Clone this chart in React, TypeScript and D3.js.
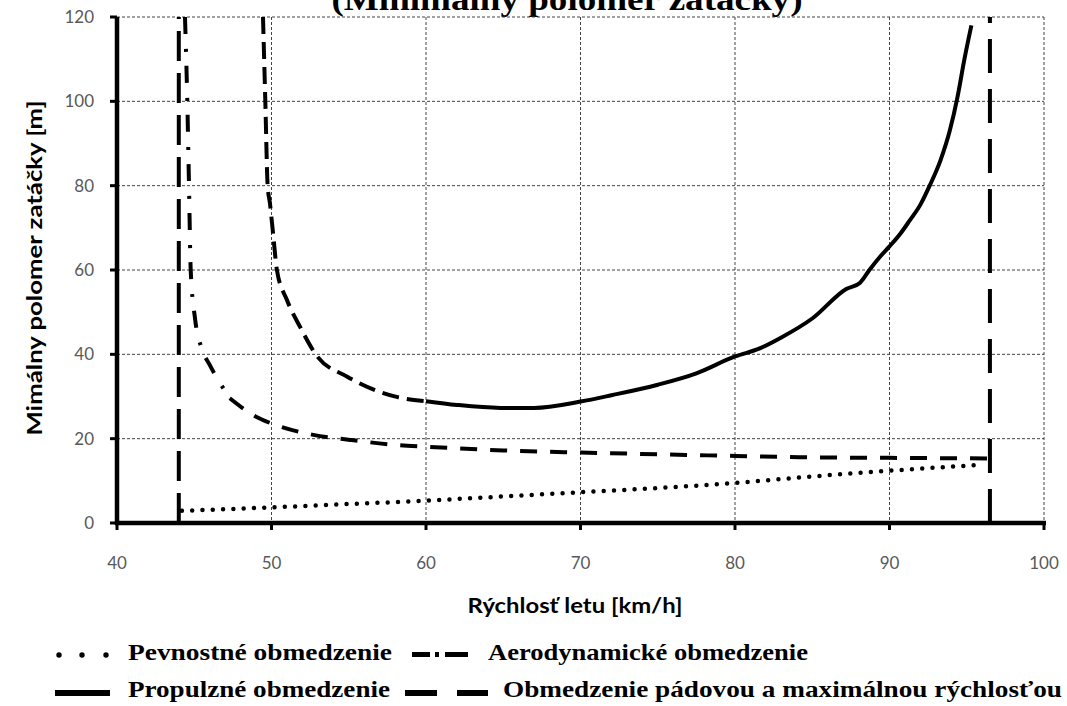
import React from "react";
import * as d3 from "d3";

// ---------- data ----------
const xTicks = [40, 50, 60, 70, 80, 90, 100];
const yTicks = [0, 20, 40, 60, 80, 100, 120];

// Propulzné obmedzenie (upper curve)
const propX = [49.45, 49.6, 49.75, 49.9, 50.1, 50.35, 51, 51.85, 52.9, 54.9, 58.1, 60, 62, 64.8, 67, 70, 72, 75, 77.5, 80, 81.6, 83, 85, 87.2, 88.1, 88.7, 89.4, 90, 90.7, 91.3, 92, 92.6, 93.3, 93.9, 94.4, 94.85, 95.3];
const propY = [120, 100, 80, 75.8, 68.7, 60, 52.9, 46.5, 39.8, 34.7, 29.9, 28.9, 28, 27.3, 27.3, 28.8, 30.3, 32.8, 35.5, 39.5, 41.4, 44, 48.5, 55.5, 57, 60, 63.2, 65.6, 68.6, 71.7, 75.5, 80, 86, 93, 101, 110, 118];

// Aerodynamické obmedzenie
const aeroX = [44.4, 44.55, 44.66, 44.77, 45.05, 45.48, 46.0, 47.3, 49, 50, 52.7, 55.1, 58.1, 60, 65, 70, 75, 80, 84.2, 90, 96.5];
const aeroY = [120, 100, 80, 60, 48.5, 41.4, 37.5, 29.6, 25.2, 23.6, 20.9, 19.7, 18.5, 18.1, 17.2, 16.7, 16.3, 15.9, 15.6, 15.45, 15.3];

// Pevnostné obmedzenie
const strX = [44.2, 50, 55, 60, 65, 70, 75, 80, 84.2, 90, 96.0];
const strY = [2.9, 3.7, 4.5, 5.3, 6.3, 7.3, 8.3, 9.5, 10.8, 12.4, 13.8];

// Obmedzenie pádovou a maximálnou rýchlosťou
const vMin = 44;
const vMax = 96.5;
const limY = [0, 120];

const title = "(Minimálny polomer zatáčky)";
const xTitle = "Rýchlosť letu [km/h]";
const yTitle = "Mimálny polomer zatáčky [m]";
const legendNames = [
  "Pevnostné obmedzenie",
  "Aerodynamické obmedzenie",
  "Propulzné obmedzenie",
  "Obmedzenie pádovou a maximálnou rýchlosťou",
];

// ---------- layout ----------
const W = 1067;
const H = 706;
const L = 117, R = 1044, T = 17, B = 523;

export default function App() {
  const x = d3.scaleLinear().domain([40, 100]).range([L, R]);
  const y = d3.scaleLinear().domain([0, 120]).range([B, T]);

  const line = d3
    .line<[number, number]>()
    .x((d) => x(d[0]))
    .y((d) => y(d[1]))
    .curve(d3.curveMonotoneX);

  const prop: [number, number][] = propX.map((v, i) => [v, propY[i]]);
  const propDash = prop.filter((d) => d[0] <= 60);
  const propSolid = prop.filter((d) => d[0] >= 60);

  const aero: [number, number][] = aeroX.map((v, i) => [v, aeroY[i]]);
  const aeroDD = aero.filter((d) => d[0] <= 47.3);
  const aeroDash = aero.filter((d) => d[0] >= 47.3);

  const str: [number, number][] = strX.map((v, i) => [v, strY[i]]);

  const gridColor = "#444";
  const tickColor = "#595959";
  const sans = "Lato, 'Open Sans', sans-serif";
  const serif = "'Liberation Serif', 'Times New Roman', serif";

  return (
    <svg
      width={W}
      height={H}
      style={{ position: "absolute", left: 0, top: 0, background: "#fff" }}
    >
      <rect x={0} y={0} width={W} height={H} fill="#fff" />
      {/* title (cut at top) */}
      <text
        x={567}
        y={10}
        textAnchor="middle"
        fontFamily={serif}
        fontWeight="bold"
        fontSize={31}
        textLength={471}
        lengthAdjust="spacingAndGlyphs"
      >
        {title}
      </text>

      {/* grid */}
      {xTicks.filter((t) => t > 40).map((t) => (
        <line key={"gx" + t} x1={x(t)} x2={x(t)} y1={T} y2={B} stroke={gridColor} strokeWidth={1} strokeDasharray="3 2" />
      ))}
      {yTicks.filter((t) => t > 0).map((t) => (
        <line key={"gy" + t} x1={L} x2={R} y1={y(t)} y2={y(t)} stroke={gridColor} strokeWidth={1} strokeDasharray="3 2" />
      ))}

      {/* series */}
      <path d={line(str) || ""} fill="none" stroke="#000" strokeWidth={4.5} strokeLinecap="round" strokeDasharray="0 10.3" />
      <path d={line(aeroDD) || ""} fill="none" stroke="#000" strokeWidth={4} strokeDasharray="17 15 3 14" />
      <path d={line(aeroDash) || ""} fill="none" stroke="#000" strokeWidth={4} strokeDasharray="17 13" />
      <path d={line(propDash) || ""} fill="none" stroke="#000" strokeWidth={4} strokeDasharray="17 8" />
      <path d={line(propSolid) || ""} fill="none" stroke="#000" strokeWidth={4} />
      <line x1={x(vMin)} x2={x(vMin)} y1={y(limY[0])} y2={y(limY[1])} stroke="#000" strokeWidth={4} strokeDasharray="30 12" />
      <line x1={x(vMax)} x2={x(vMax)} y1={y(limY[0])} y2={y(limY[1])} stroke="#000" strokeWidth={4} strokeDasharray="34 16" />

      {/* axes */}
      <line x1={L} x2={L} y1={T} y2={B + 2} stroke="#000" strokeWidth={4.5} />
      <line x1={L - 2} x2={R + 2} y1={B} y2={B} stroke="#000" strokeWidth={4.5} />
      {yTicks.map((t) => (
        <line key={"ty" + t} x1={L - 7} x2={L} y1={y(t)} y2={y(t)} stroke="#000" strokeWidth={3} />
      ))}
      {xTicks.map((t) => (
        <line key={"tx" + t} x1={x(t)} x2={x(t)} y1={B} y2={B + 7} stroke="#000" strokeWidth={3} />
      ))}
      {yTicks.map((t) => (
        <text key={"ly" + t} x={94} y={y(t)} dy="0.35em" textAnchor="end" fontFamily={sans} fontSize={17} fill={tickColor}>
          {t}
        </text>
      ))}
      {xTicks.map((t) => (
        <text key={"lx" + t} x={x(t)} y={569} textAnchor="middle" fontFamily={sans} fontSize={17} fill={tickColor}>
          {t}
        </text>
      ))}

      {/* axis titles */}
      <text
        x={575}
        y={613}
        textAnchor="middle"
        fontFamily={sans}
        fontWeight="bold"
        fontSize={20}
        textLength={215}
        lengthAdjust="spacingAndGlyphs"
        fill="#000"
      >
        {xTitle}
      </text>
      <text
        transform={`translate(42,268) rotate(-90)`}
        textAnchor="middle"
        fontFamily={sans}
        fontWeight="bold"
        fontSize={20}
        textLength={335}
        lengthAdjust="spacingAndGlyphs"
        fill="#000"
      >
        {yTitle}
      </text>

      {/* legend */}
      <g fontFamily={serif} fontWeight="bold" fontSize={24} fill="#000">
        {[59, 82, 106].map((cx) => (
          <circle key={cx} cx={cx} cy={655} r={2.7} fill="#000" />
        ))}
        <text x={128} y={660} textLength={264} lengthAdjust="spacingAndGlyphs">{legendNames[0]}</text>
        <rect x={412} y={652} width={18} height={5} fill="#000" />
        <rect x={435} y={652} width={4} height={5} fill="#000" />
        <rect x={445} y={652} width={23} height={5} fill="#000" />
        <text x={488} y={660} textLength={320} lengthAdjust="spacingAndGlyphs">{legendNames[1]}</text>

        <rect x={55} y={690} width={55} height={6} fill="#000" />
        <text x={128} y={697} textLength={262} lengthAdjust="spacingAndGlyphs">{legendNames[2]}</text>
        <rect x={405} y={690} width={32} height={6} fill="#000" />
        <rect x={457} y={690} width={31} height={6} fill="#000" />
        <text x={503} y={697} textLength={559} lengthAdjust="spacingAndGlyphs">{legendNames[3]}</text>
      </g>
    </svg>
  );
}
